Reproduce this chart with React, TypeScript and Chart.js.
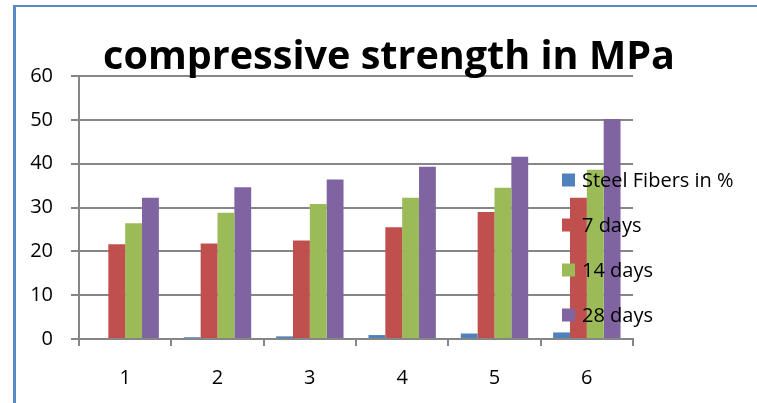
import React, { useEffect, useRef } from "react";
import { Chart, registerables } from "chart.js";

Chart.register(...registerables);

const categories = ["1", "2", "3", "4", "5", "6"];
const seriesLabels = ["Steel Fibers in %", "7 days", "14 days", "28 days"];
const steelFibers = [0, 0.4, 0.6, 0.9, 1.25, 1.5];
const days7 = [21.6, 21.8, 22.5, 25.5, 29.0, 32.2];
const days14 = [26.4, 28.8, 30.8, 32.2, 34.5, 38.6];
const days28 = [32.2, 34.6, 36.4, 39.3, 41.6, 50.2];
const seriesColors = ["#4F81BD", "#C0504D", "#9BBB59", "#8064A2"];
const titleText = "compressive strength in MPa";

const FONT = '"Open Sans", "Liberation Sans", sans-serif';
const AXIS = "#868686";

const overlayPlugin = {
  id: "overlay",
  beforeDraw(chart: any) {
    const ctx = chart.ctx;
    ctx.save();
    ctx.fillStyle = "#fff";
    ctx.fillRect(0, 0, chart.width, chart.height);
    ctx.fillStyle = "#5A8AC6";
    ctx.fillRect(13, 5, 3, chart.height - 5);
    ctx.fillRect(13, 5, chart.width - 13, 2);
    ctx.restore();
  },
  afterDraw(chart: any) {
    const ctx = chart.ctx;
    ctx.save();
    ctx.font = `bold 40px ${FONT}`;
    const w = ctx.measureText(titleText).width;
    const size = (40 * 572) / w;
    ctx.font = `bold ${size}px ${FONT}`;
    ctx.fillStyle = "#000";
    ctx.textAlign = "center";
    ctx.textBaseline = "alphabetic";
    ctx.fillText(titleText, 389, 69);

    ctx.font = `20px ${FONT}`;
    ctx.textAlign = "left";
    ctx.textBaseline = "middle";
    chart.data.datasets.forEach((ds: any, i: number) => {
      const cy = 180 + i * 45;
      ctx.fillStyle = ds.backgroundColor;
      ctx.fillRect(562, cy - 6.5, 13, 13);
      ctx.fillStyle = "#000";
      ctx.fillText(ds.label, 582, cy + 1);
    });
    ctx.restore();
  },
};

export default function App() {
  const ref = useRef<HTMLCanvasElement | null>(null);
  useEffect(() => {
    if (!ref.current) return;
    const values = [steelFibers, days7, days14, days28];
    const chart = new Chart(ref.current, {
      type: "bar",
      data: {
        labels: categories,
        datasets: seriesLabels.map((label, i) => ({
          label,
          data: values[i],
          backgroundColor: seriesColors[i],
          borderWidth: 0,
          barPercentage: 1,
          categoryPercentage: 0.73,
        })),
      },
      options: {
        responsive: false,
        animation: false,
        layout: { padding: { top: 76, right: 124, bottom: 0, left: 0 } },
        plugins: {
          legend: { display: false },
          title: { display: false },
          tooltip: { enabled: false },
        },
        scales: {
          x: {
            afterFit: (s: any) => {
              s.height = 64;
            },
            grid: {
              display: true,
              drawOnChartArea: false,
              drawTicks: true,
              tickLength: 7,
              offset: true,
              color: AXIS,
              lineWidth: 2,
            },
            border: { display: true, color: AXIS, width: 2 },
            ticks: {
              color: "#000",
              font: { family: FONT, size: 20 },
              padding: 20,
            },
          },
          y: {
            min: 0,
            max: 60,
            afterFit: (s: any) => {
              s.width = 79;
            },
            grid: {
              color: AXIS,
              lineWidth: 2,
              drawTicks: true,
              tickLength: 8,
            },
            border: { display: true, color: AXIS, width: 2 },
            ticks: {
              stepSize: 10,
              color: "#000",
              font: { family: FONT, size: 20 },
              padding: 18,
            },
          },
        },
      },
      plugins: [overlayPlugin],
    });
    return () => chart.destroy();
  }, []);

  return (
    <div
      style={{
        position: "absolute",
        left: 0,
        top: 0,
        width: 757,
        height: 403,
        background: "#fff",
        overflow: "hidden",
      }}
    >
      <canvas
        ref={ref}
        width={757}
        height={403}
        style={{ position: "absolute", left: 0, top: 0, display: "block" }}
      />
    </div>
  );
}
